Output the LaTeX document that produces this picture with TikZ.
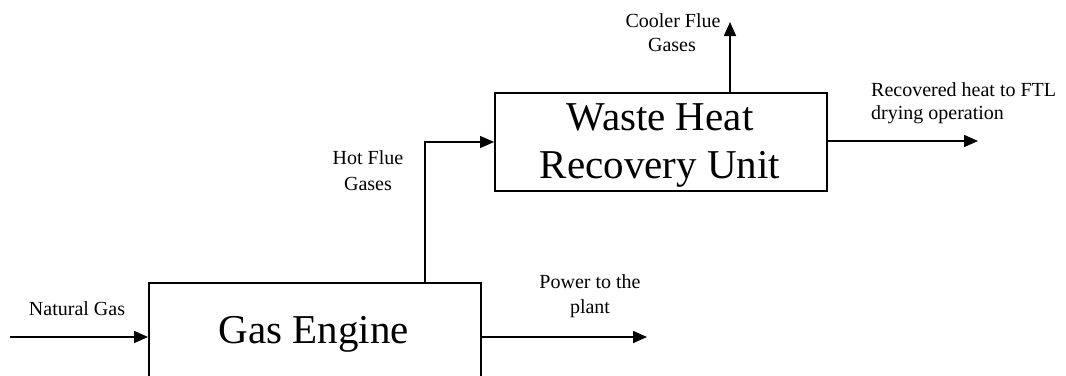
\documentclass[tikz,border=0pt]{standalone}
\usepackage{fontspec}
\setmainfont{Liberation Serif}
\usetikzlibrary{arrows.meta,calc}
\begin{document}
\begin{tikzpicture}[x=1pt,y=-1pt,
  box/.style={draw,line width=1.8pt,inner sep=0pt,rectangle},
  big/.style={inner sep=0pt,font=\fontsize{41}{48}\selectfont},
  small/.style={inner sep=0pt,font=\fontsize{20}{25}\selectfont},
  flow/.style={line width=1.6pt,-{Triangle[length=14pt,width=12pt]}}]
\useasboundingbox (0,0) rectangle (1066,375);
\clip (0,0) rectangle (1066,375);
% boxes
\node[box,minimum width=332pt,minimum height=140pt,anchor=north west] (ge) at (148,282) {};
\node[box,minimum width=332pt,minimum height=98pt,anchor=north west] (whru) at (494,92) {};
% box texts
\node[big,anchor=base] (getext) at (314,343) {Gas Engine};
\node[big,anchor=base] (whru1) at (660,130) {Waste Heat};
\node[big,anchor=base] (whru2) at (660,178) {Recovery Unit};
% labels
\node[small,anchor=base] (ng) at (77,315) {Natural Gas};
\node[small,anchor=base] (pw1) at (590,288) {Power to the};
\node[small,anchor=base] (pw2) at (590,313) {plant};
\node[small,anchor=base] (hf1) at (368,164) {Hot Flue};
\node[small,anchor=base] (hf2) at (368,190) {Gases};
\node[small,anchor=base] (cf1) at (673,27) {Cooler Flue};
\node[small,anchor=base] (cf2) at (672,51) {Gases};
\node[small,anchor=base west] (rh1) at (871,96) {Recovered heat to FTL};
\node[small,anchor=base west] (rh2) at (871,119) {drying operation};
% connector end points
\coordinate (ngin) at (10,337);
\coordinate (pwout) at (647,337);
\coordinate (hf) at (425,142);
\coordinate (cf) at (730,22);
\coordinate (rh) at (978,141);
% connectors
\draw[flow] (ngin) -- (ngin -| ge.west);
\draw[flow] (pwout -| ge.east) -- (pwout);
\draw[flow] (hf |- ge.north) -- (hf) -- (hf -| whru.west);
\draw[flow] (cf |- whru.north) -- (cf);
\draw[flow] (rh -| whru.east) -- (rh);
\end{tikzpicture}
\end{document}
